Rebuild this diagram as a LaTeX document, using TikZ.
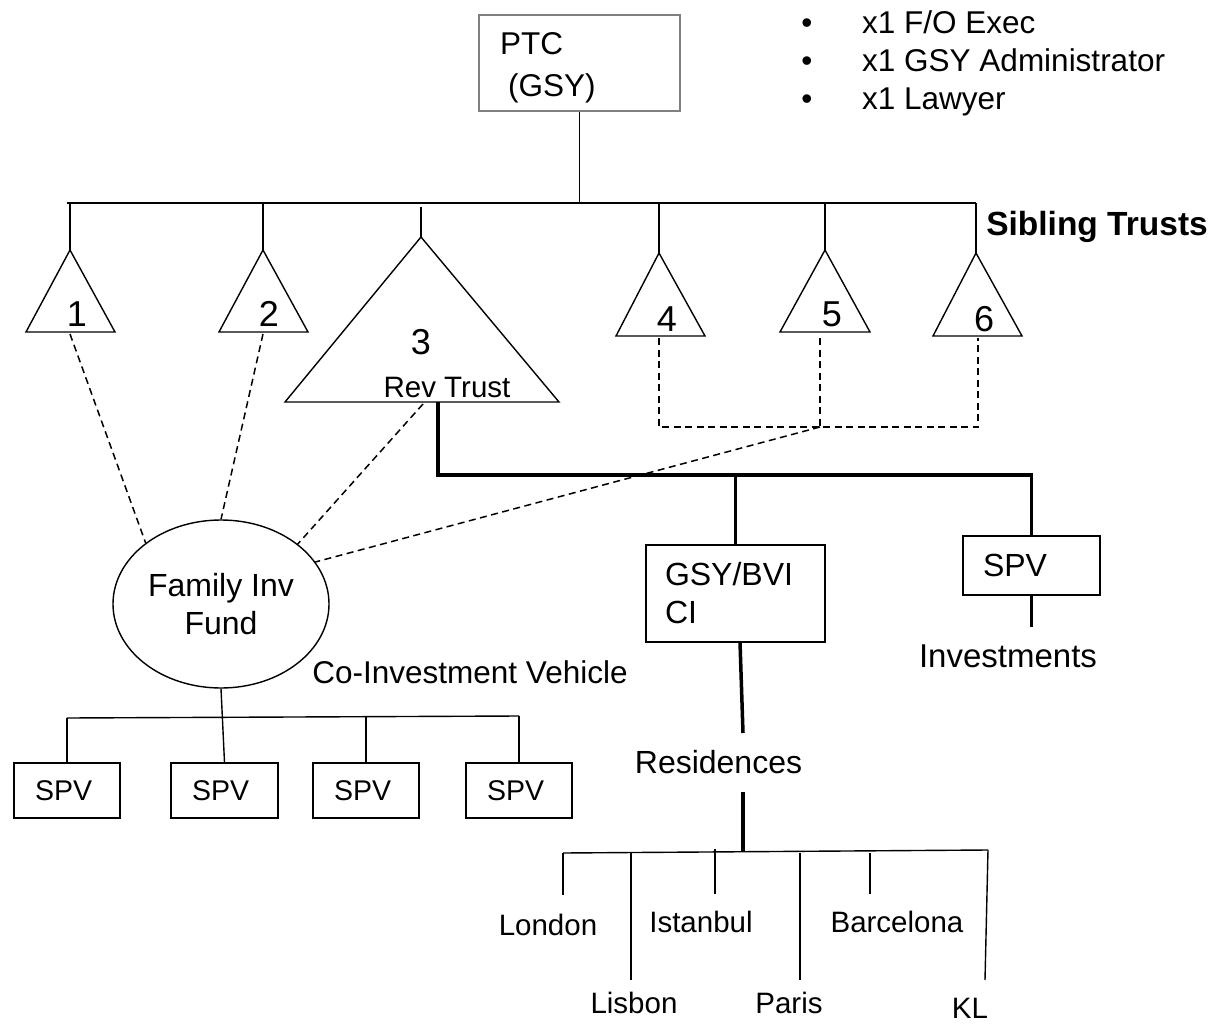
\documentclass[tikz,border=0pt]{standalone}
\usepackage{fontspec}
\setmainfont{Liberation Sans}
\usetikzlibrary{shapes.geometric}
\begin{document}
\begin{tikzpicture}[x=1pt,y=-1pt,
  ln/.style={line width=1.4pt, line join=miter},
  thk/.style={line width=3.5pt, line join=miter},
  dsh/.style={line width=1.5pt, dash pattern=on 7pt off 4.5pt},
  lbl/.style={inner sep=0pt, anchor=base, font=\fontsize{31.5}{36}\selectfont},
  city/.style={inner sep=0pt, anchor=base, font=\fontsize{29.5}{36}\selectfont},
  num/.style={inner sep=0pt, anchor=base, font=\fontsize{36}{40}\selectfont},
  spvbox/.style={draw, line width=1.4pt, minimum height=55pt, text width=64pt, inner xsep=21pt, inner ysep=0pt, align=left, font=\fontsize{28.5}{32}\selectfont},
  bigbox/.style={draw, line width=1.4pt, inner ysep=0pt, align=left, font=\fontsize{32}{38}\selectfont}
]
\useasboundingbox (0,0) rectangle (1221,1030);

% ---------- top-right list ----------
\node[lbl] (b1) at (807,34) {•};
\node[lbl] (b2) at (807,72) {•};
\node[lbl] (b3) at (807,110) {•};
\node[lbl, anchor=base west] (l1) at (862,34) {x1 F/O Exec};
\node[lbl, anchor=base west] (l2) at (862,72) {x1 GSY Administrator};
\node[lbl, anchor=base west] (l3) at (862,110) {x1 Lawyer};

% ---------- PTC ----------
\node[draw=gray, line width=1.4pt, minimum width=201pt, minimum height=96pt, inner sep=0pt] (ptc) at (579.5,63) {};
\node[lbl, anchor=base west, font=\fontsize{31.5}{36}\selectfont] (ptc1) at (500,55) {PTC};
\node[lbl, anchor=base west, font=\fontsize{31.5}{36}\selectfont] (ptc2) at (508,97) {(GSY)};

\coordinate (barL) at (67,203);
\coordinate (barR) at (976,203);
\draw[ln] (ptc.south) -- (ptc.south |- barL);
\draw[ln] (barL) -- (barR);

% ---------- triangles ----------
\coordinate (t1a) at (70,250);  \coordinate (t1l) at (26,332);  \coordinate (t1r) at (115,332);
\coordinate (t2a) at (263,250); \coordinate (t2l) at (219,332); \coordinate (t2r) at (308,332);
\coordinate (t3a) at (421,237); \coordinate (t3l) at (285,402); \coordinate (t3r) at (559,402);
\coordinate (t4a) at (659,253); \coordinate (t4l) at (616,336); \coordinate (t4r) at (705,336);
\coordinate (t5a) at (825,250); \coordinate (t5l) at (780,332); \coordinate (t5r) at (870,332);
\coordinate (t6a) at (976,253); \coordinate (t6l) at (933,336); \coordinate (t6r) at (1022,336);
\coordinate (t3top) at (421,207);

\foreach \i in {1,2,3,4,5,6}{
  \draw[ln] (t\i a) -- (t\i l) -- (t\i r) -- cycle;
}
\foreach \i in {1,2,4,5,6}{
  \draw[ln] (t\i a |- barL) -- (t\i a);
}
\draw[ln] (t3top) -- (t3a);

\node[num] (n1) at (77,326) {1};
\node[num] (n2) at (269,326) {2};
\node[num] (n3) at (421,354) {3};
\node[num] (n4) at (667,331) {4};
\node[num] (n5) at (832,326) {5};
\node[num] (n6) at (984,331) {6};
\node[inner sep=0pt, anchor=base, font=\fontsize{29.5}{32}\selectfont] (rev) at (447,397) {Rev Trust};
\node[inner sep=0pt, anchor=base, font=\fontsize{33.5}{36}\selectfont\bfseries] (sib) at (1097,235) {Sibling Trusts};

% ---------- Family Inv Fund ----------
\node[draw, ellipse, line width=1.4pt, minimum width=216pt, minimum height=168pt, inner sep=0pt, align=center, font=\fontsize{32}{38}\selectfont] (fund) at (221,604) {Family Inv\\Fund};
\node[lbl] (coinv) at (470,683) {Co-Investment Vehicle};

% dashed links
\coordinate (d1) at (70,334);
\coordinate (d2) at (263,334);
\coordinate (d3) at (423,404);
\coordinate (d4) at (659,338);
\coordinate (d5) at (820,338);
\coordinate (d6) at (978,338);
\coordinate (d4b) at (659,427);
\coordinate (d5b) at (820,427);
\coordinate (d6b) at (978,427);
\draw[dsh] (d1) -- (fund.141);
\draw[dsh] (d2) -- (fund.90);
\draw[dsh] (d3) -- (fund.38);
\draw[dsh] (d4) -- (d4b) -- (d6b) -- (d6);
\draw[dsh] (d5) -- (d5b);

% SPV boxes under fund
\node[spvbox] (spv1) at (67,790.5) {SPV};
\node[spvbox, text width=65pt] (spv2) at (224.5,790.5) {SPV};
\node[spvbox] (spv3) at (366,790.5) {SPV};
\node[spvbox] (spv4) at (519,790.5) {SPV};
\coordinate (fbL) at (67,718);
\coordinate (fbR) at (519,716);
\draw[ln] (fund.south) -- (spv2.north);
\draw[ln] (fbL) -- (fbR);
\draw[ln] (fbL) -- (spv1.north);
\draw[ln] (spv3.north |- fbR) -- (spv3.north);
\draw[ln] (fbR) -- (spv4.north);

% ---------- Rev Trust holdings (thick) ----------
\node[bigbox, text width=141pt, inner xsep=19pt, minimum height=97pt] (gsy) at (735.5,593.5) {GSY/BVI\\CI};
\node[bigbox, text width=97pt, inner xsep=20pt, minimum height=59pt] (spvR) at (1031.5,565.5) {SPV};
\coordinate (r0) at (438,402);
\coordinate (r1) at (438,475);
\coordinate (r2) at (1031.5,475);
\draw[thk] (r0) -- (r1) -- (r2) -- (spvR.north);
\draw[thk] (gsy.north |- r1) -- (gsy.north);
\coordinate (inv0) at (1031.5,627);
\draw[thk] (spvR.south) -- (inv0);
\node[inner sep=0pt, anchor=base, font=\fontsize{33}{36}\selectfont] (inv) at (1008,667) {Investments};

\draw[dsh] (d5b) -- (fund.24);

\node[inner sep=0pt, anchor=base, font=\fontsize{32}{36}\selectfont] (res) at (718.5,773) {Residences};
\coordinate (g0) at (740,642);
\coordinate (g1) at (743,733);
\coordinate (g2) at (743,792);
\coordinate (g3) at (743,852);
\draw[thk] (g0) -- (g1);
\draw[thk] (g2) -- (g3);

% ---------- cities ----------
\coordinate (cL) at (563,853);
\coordinate (cR) at (988,850);
\draw[ln] (cL) -- (cR);
\coordinate (lon) at (563,895);
\coordinate (lisT) at (631,853);  \coordinate (lisB) at (631,980);
\coordinate (istT) at (715,849);  \coordinate (istB) at (715,894);
\coordinate (parT) at (800,853);  \coordinate (parB) at (800,980);
\coordinate (barT) at (870,853);  \coordinate (barB) at (870,894);
\coordinate (klB) at (985,980);
\draw[ln] (cL) -- (lon);
\draw[ln] (lisT) -- (lisB);
\draw[ln] (istT) -- (istB);
\draw[ln] (parT) -- (parB);
\draw[ln] (barT) -- (barB);
\draw[ln] (cR) -- (klB);

\node[city] (london) at (548,935) {London};
\node[city] (istanbul) at (701,932) {Istanbul};
\node[city] (barcelona) at (897,932) {Barcelona};
\node[city] (lisbon) at (634,1013) {Lisbon};
\node[city] (paris) at (789,1013) {Paris};
\node[city] (kl) at (970,1018) {KL};
\end{tikzpicture}
\end{document}
